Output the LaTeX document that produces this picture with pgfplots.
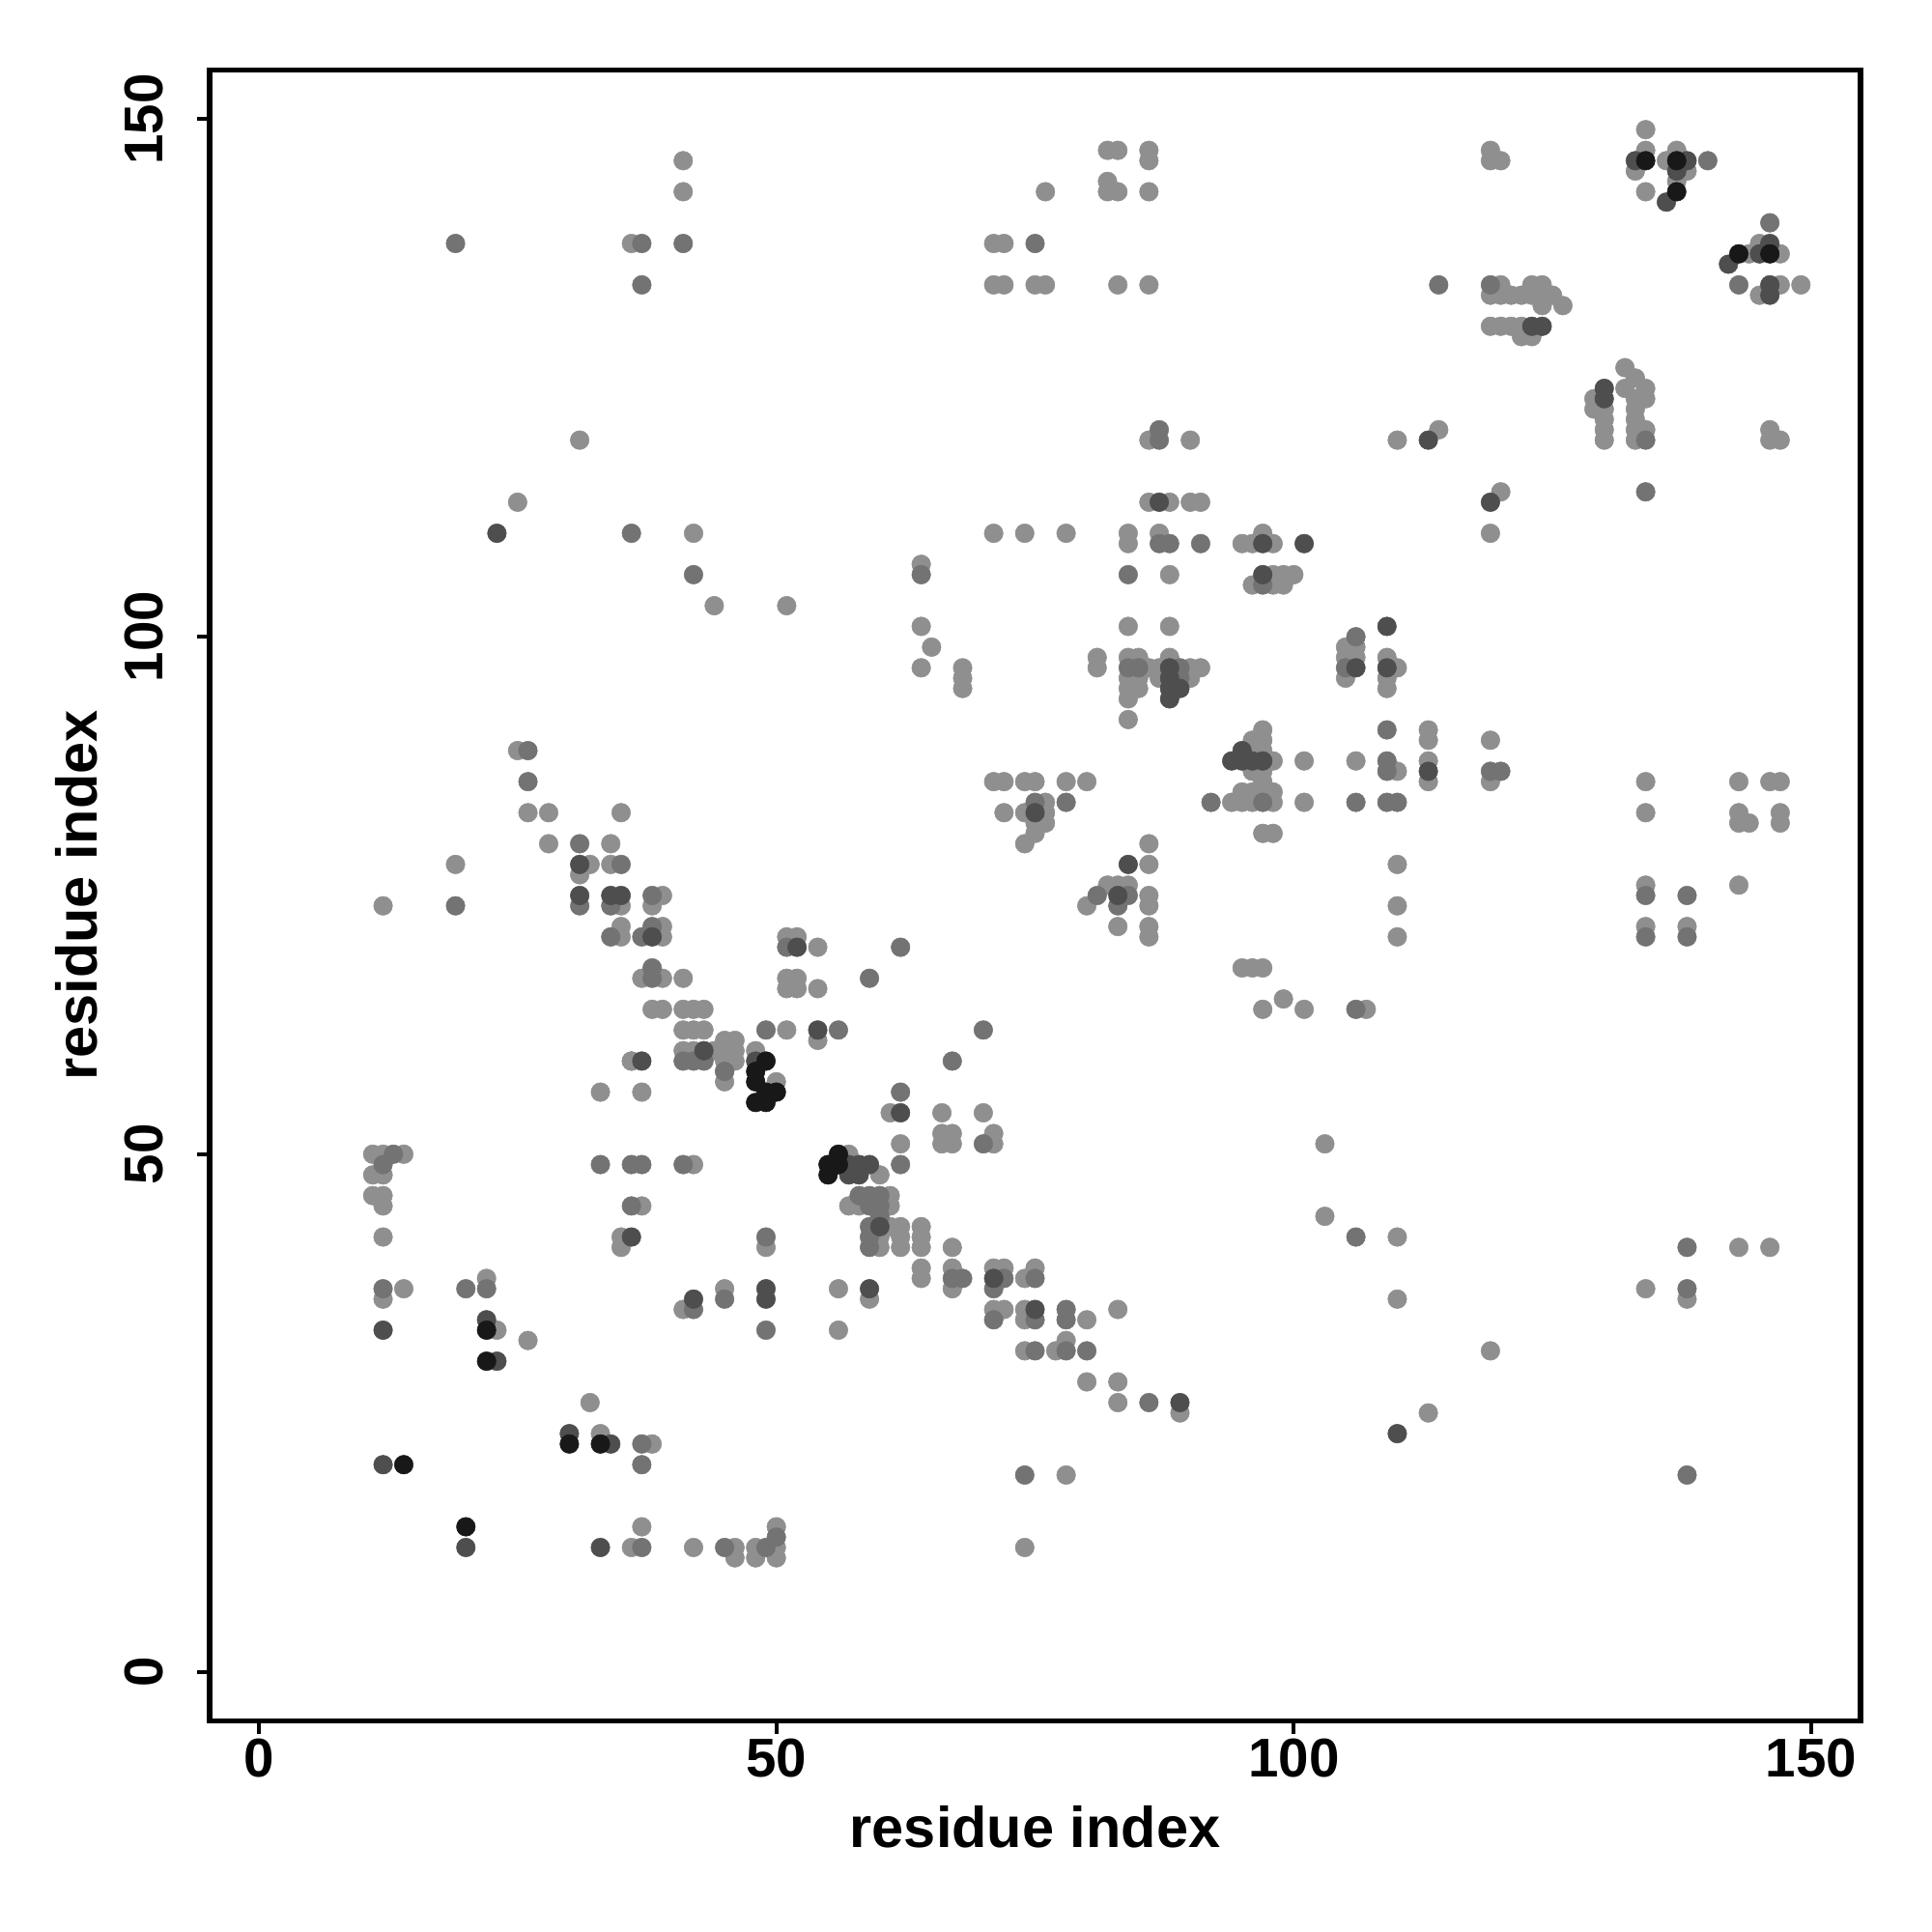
\documentclass[border=0pt]{standalone}
\usepackage{fontspec}
\setmainfont{Liberation Sans}
\usepackage{pgfplots}
\pgfplotsset{compat=1.18}
\definecolor{cL}{HTML}{8F8F8F}
\definecolor{cM}{HTML}{737373}
\definecolor{cD}{HTML}{4E4E4E}
\definecolor{cK}{HTML}{181818}
\begin{document}
\begin{tikzpicture}
\begin{axis}[
  scale only axis, width=341.8pt, height=341.8pt,
  xmin=-4.76, xmax=154.76, ymin=-4.76, ymax=154.76,
  axis line style={line width=1.1pt},
  xtick={0,50,100,150}, ytick={0,50,100,150},
  tick align=outside, tick pos=left, major tick length=2.6pt,
  tick style={line width=0.8pt, black},
  /pgf/number format/assume math mode=true,
  ticklabel style={font=\fontsize{11.3}{13}\selectfont\bfseries, inner sep=0pt},
  xticklabel style={anchor=north, yshift=-1pt},
  yticklabel style={rotate=90, anchor=south, yshift=6.8pt},
  xlabel={residue index}, ylabel={residue index},
  label style={font=\fontsize{11.9}{14}\selectfont\bfseries},
  xlabel style={at={(axis description cs:0.5,-0.0642)}, anchor=center},
  ylabel style={at={(axis description cs:-0.0806,0.5)}, anchor=center},
  mark size=1.95pt,
]
\addplot[only marks, mark=*, color=cL, mark options={solid, fill=cL, draw=cL, line width=0.1pt}] coordinates {
(31,119) (25,113) (41,146) (41,143) (36,138) (71,138) (72,138) (71,134) (72,134) (75,134) (76,134) (42,110) (44,103) (51,103) (64,107) (64,101) (71,110) (74,110)
(82,147) (83,147) (86,147) (86,146) (76,143) (82,144) (82,143) (83,143) (86,143) (83,134) (86,134) (86,119) (90,119) (110,119) (114,120) (86,113) (88,113) (90,113) (91,113) (78,110) (84,110) (84,109) (87,110) (95,109) (96,109) (97,110) (98,109) (88,106) (98,106) (99,106) (100,106) (96,105) (98,105) (99,105) (84,101) (88,101)
(134,149) (134,147) (137,147) (119,147) (119,146) (120,146) (136,146) (133,145) (138,145) (137,144) (134,143) (145,138) (144,137) (147,137) (147,134) (149,134) (145,133) (120,134) (123,134) (124,134) (119,133) (120,133) (121,133) (122,133) (123,133) (124,133) (125,133) (124,132) (126,132) (119,130) (120,130) (121,130) (122,130) (122,129) (123,129) (132,126) (133,125) (132,124) (134,124) (129,123) (129,122) (130,122) (130,121) (130,120) (130,119) (133,123) (133,122) (133,121) (133,120) (133,119) (134,123) (134,120) (146,120) (146,119) (147,119) (120,114) (119,110)
(25,89) (26,83) (28,83) (35,83) (28,80) (34,80) (19,78) (32,78) (34,78) (31,77) (12,74) (35,74) (35,72) (35,71) (36,59) (33,56) (11,50) (12,50) (14,50) (11,48)
(65,99) (64,97) (68,97) (68,96) (68,95) (71,86) (72,86) (74,86) (72,83) (74,83) (75,82) (74,80) (39,75) (38,74) (39,72) (39,71) (51,71) (52,71) (54,70) (37,67) (39,67) (41,67) (51,67) (52,67) (51,66) (52,66) (54,66) (38,64) (39,64) (41,64) (42,64) (43,64) (41,62) (42,62) (43,62) (51,62) (54,61) (41,60) (42,60) (44,60) (45,61) (46,61) (45,60) (46,60) (45,59) (46,59) (45,58) (45,57) (48,60) (50,57) (36,59) (37,56) (66,54) (70,54) (61,54) (66,52) (67,52) (66,51) (67,51) (71,52) (71,51) (62,51) (57,50) (60,48) (42,49)
(61,46) (57,45) (58,45) (61,45) (61,43) (62,43) (64,43) (60,42) (60,41) (62,42) (62,41) (64,42) (64,41) (67,41) (64,39) (64,38) (67,39) (67,37) (71,39) (72,39) (74,38) (75,39) (71,35) (72,35) (74,35) (74,34) (74,31) (74,12) (37,45) (35,41) (49,41) (41,35) (45,37) (56,37) (56,33) (59,36) (38,22) (37,14) (36,12) (42,12) (46,12) (46,11) (48,12) (48,11) (50,14) (50,12) (50,11)
(12,48) (11,46) (12,46) (12,45) (12,42) (12,36) (14,37) (22,38) (23,33) (26,32) (32,26) (33,23) (35,42)
(81,98) (81,97) (84,98) (85,98) (88,98) (86,97) (87,97) (90,97) (91,97) (84,96) (85,96) (87,96) (90,96) (84,95) (85,95) (84,94) (84,92) (105,99) (105,98) (106,99) (106,98) (105,96) (109,98) (110,97) (109,96) (109,95) (113,91) (113,90) (113,88) (113,86) (110,87) (106,88) (101,88) (97,91) (96,90) (97,90) (96,89) (97,89) (98,88) (96,87) (97,87) (97,86) (95,85) (96,85) (97,85) (98,85) (94,84) (95,84) (96,84) (98,84) (101,84) (97,81) (98,81) (75,86) (78,86) (80,86) (76,84) (76,83) (76,82) (75,81) (86,80) (86,78) (82,76) (83,76) (84,76) (86,75) (80,74) (86,74) (83,72) (86,72) (86,71) (95,68) (96,68) (97,68) (99,65) (97,64) (101,64) (107,64) (110,78) (110,74) (110,71) (103,51)
(103,44) (110,42) (110,36) (113,25) (80,34) (83,35) (77,31) (78,32) (80,28) (83,28) (83,26) (89,25) (78,19)
(119,90) (119,86) (134,86) (134,83) (143,86) (146,86) (147,86) (143,83) (143,82) (144,82) (147,83) (147,82) (134,76) (143,76) (134,72) (138,72)
(143,41) (146,41) (134,37) (138,36) (119,31)
};
\addplot[only marks, mark=*, color=cM, mark options={solid, fill=cM, draw=cM, line width=0.1pt}] coordinates {
(19,138) (37,138) (41,138) (37,134) (75,138) (36,110) (42,106) (64,106) (87,120) (87,119) (114,134) (84,106) (87,109) (88,109) (91,109) (97,105)
(140,146) (146,140) (143,134) (119,134) (134,119) (134,114)
(26,89) (26,86) (31,80) (35,78) (19,74) (31,74) (34,74) (34,71) (13,50) (12,49) (33,49)
(75,84) (38,75) (37,71) (38,72) (51,70) (62,70) (38,68) (38,67) (59,67) (49,62) (56,62) (70,62) (41,59) (42,59) (43,59) (45,58) (67,59) (62,56) (70,51) (62,49) (36,49) (37,49) (41,49)
(58,46) (59,46) (60,46) (59,45) (60,45) (60,44) (59,43) (59,42) (59,41) (49,42) (67,38) (68,38) (72,38) (71,37) (75,38) (71,34) (75,34) (75,31) (74,19) (36,45) (45,36) (49,33) (42,35) (37,22) (37,20) (37,12) (45,12) (49,12) (50,13)
(12,37) (20,37) (22,37)
(84,97) (85,97) (89,97) (89,96) (105,97) (106,100) (109,91) (109,88) (109,87) (92,84) (97,84) (106,84) (109,84) (110,84) (81,75) (84,75) (83,74) (78,84) (106,64)
(78,35) (78,34) (78,31) (80,31) (106,42) (86,26)
(119,87) (120,87) (134,75) (138,75) (134,71) (138,71)
(138,41) (138,37) (138,19)
};
\addplot[only marks, mark=*, color=cD, mark options={solid, fill=cD, draw=cD, line width=0.1pt}] coordinates {
(23,110) (113,119) (87,113) (97,109) (97,106) (101,109) (109,101)
(133,146) (138,146) (137,145) (136,142) (146,138) (145,137) (146,134) (146,133) (142,136) (123,130) (124,130) (130,124) (130,123) (119,113)
(31,78) (31,75) (34,75) (35,75)
(75,83) (38,71) (52,70) (54,62) (48,59) (37,59) (43,60) (56,49) (57,49) (58,49) (59,49) (57,48) (58,48) (62,54) (60,43)
(36,42) (42,36) (49,37) (49,36) (59,37) (71,38) (75,35)
(12,33) (22,34) (30,23) (23,30) (34,22) (12,20) (20,12) (33,12)
(88,97) (106,97) (109,97) (88,96) (88,95) (89,95) (88,94) (95,89) (94,88) (95,88) (96,88) (97,88) (113,87) (84,78) (83,75)
(89,26) (110,23)
};
\addplot[only marks, mark=*, color=cK, mark options={solid, fill=cK, draw=cK, line width=0.1pt}] coordinates {
(134,146) (137,146) (137,143) (143,137) (146,137) (22,33) (22,30) (30,22) (33,22) (20,14) (14,20)
(49,56) (50,56) (48,55) (49,55) (48,57) (48,58) (49,59) (55,49) (56,50) (55,48) (56,49)
};
\end{axis}
\pgfresetboundingbox
\path[use as bounding box] (-43.4pt,-43.6pt) rectangle (356.6pt,356.3pt);
\end{tikzpicture}
\end{document}
